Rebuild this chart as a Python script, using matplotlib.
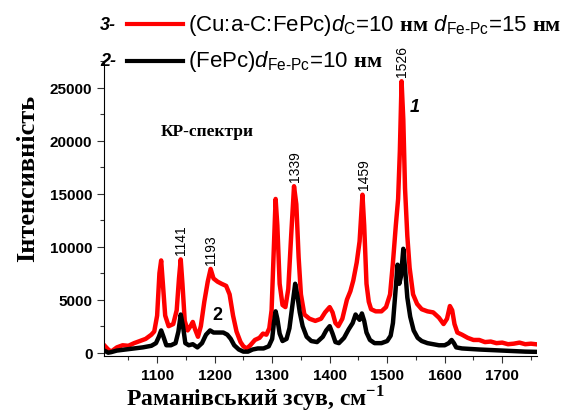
import matplotlib
matplotlib.use("Agg")
import matplotlib.pyplot as plt
from matplotlib.lines import Line2D
from matplotlib.ticker import MultipleLocator

plt.rcParams['font.family'] = ['Liberation Sans', 'DejaVu Sans']
plt.rcParams['mathtext.fontset'] = 'custom'
plt.rcParams['mathtext.rm'] = 'Liberation Sans'
plt.rcParams['mathtext.it'] = 'Liberation Sans:italic'
plt.rcParams['mathtext.bf'] = 'Liberation Serif:bold'

# curve 1 (red): Cu:a-C:FePc
shift_1 = [1008, 1015, 1020, 1030, 1040, 1050, 1060, 1070, 1080, 1090, 1095, 1100, 1104, 1107,
           1110, 1114, 1120, 1128, 1134, 1138, 1141, 1144, 1148, 1153, 1158, 1162, 1166, 1171,
           1176, 1182, 1188, 1193, 1198, 1205, 1212, 1220, 1226, 1232, 1238, 1245, 1250, 1256,
           1262, 1270, 1278, 1284, 1290, 1295, 1299, 1303, 1306, 1309, 1313, 1318, 1323, 1328,
           1333, 1338, 1342, 1346, 1350, 1356, 1365, 1375, 1385, 1392, 1400, 1405, 1410, 1415,
           1422, 1430, 1436, 1441, 1447, 1452, 1457, 1460, 1464, 1468, 1472, 1480, 1490, 1498,
           1505, 1510, 1515, 1519, 1522, 1525, 1528, 1531, 1535, 1539, 1545, 1552, 1560, 1570,
           1580, 1590, 1598, 1604, 1609, 1613, 1617, 1622, 1630, 1640, 1650, 1660, 1670, 1680,
           1690, 1700, 1710, 1720, 1730, 1740, 1750, 1758]
int_1 = [700, 300, 100, 500, 700, 650, 900, 1100, 1300, 1700, 2000, 3500, 7500, 8700,
         6500, 3500, 2500, 2700, 4000, 7000, 8800, 6500, 3000, 2100, 2500, 2900, 2200, 1500,
         2500, 4800, 6700, 7900, 7000, 6700, 6500, 6300, 5500, 3500, 2000, 1000, 600, 400,
         700, 1200, 1400, 1800, 1700, 2300, 4000, 10000, 14500, 12000, 6500, 4500, 4300, 6000,
         11000, 15700, 14000, 9000, 5500, 3600, 3200, 3000, 3200, 3800, 4300, 3800, 2800, 2500,
         3200, 5000, 5800, 6800, 8500, 10500, 14900, 12000, 6500, 4800, 4100, 3900, 3900, 4300,
         5500, 8500, 12000, 14500, 19000, 25600, 22000, 15500, 11000, 8000, 5500, 4600, 4100, 3900,
         3800, 3300, 2700, 3200, 4400, 4000, 2700, 1900, 1700, 1400, 1200, 1200, 1000, 1050,
         900, 950, 800, 850, 950, 800, 850, 800]

# curve 2 (black): FePc
shift_2 = [1008, 1015, 1020, 1030, 1045, 1060, 1075, 1090, 1098, 1103, 1107, 1111, 1116, 1124,
           1132, 1137, 1141, 1145, 1149, 1155, 1162, 1170, 1178, 1185, 1192, 1198, 1207, 1215,
           1222, 1228, 1234, 1242, 1250, 1258, 1266, 1275, 1285, 1294, 1300, 1303, 1306, 1309,
           1313, 1318, 1325, 1330, 1336, 1340, 1344, 1348, 1353, 1360, 1368, 1378, 1388, 1394,
           1400, 1405, 1410, 1416, 1425, 1433, 1440, 1445, 1449, 1452, 1456, 1460, 1464, 1470,
           1478, 1490, 1500, 1506, 1510, 1514, 1518, 1521, 1524, 1528, 1531, 1535, 1540, 1546,
           1553, 1560, 1570, 1580, 1590, 1600, 1607, 1612, 1616, 1620, 1630, 1645, 1660, 1680,
           1700, 1720, 1740, 1758]
int_2 = [200, 0, 50, 200, 300, 400, 500, 650, 900, 1500, 2100, 1500, 700, 700,
         900, 2000, 3600, 2500, 900, 700, 800, 500, 900, 1700, 2100, 1900, 1900, 1900,
         1700, 1300, 700, 300, 100, 100, 300, 400, 400, 600, 1300, 2800, 3900, 3200,
         1800, 1100, 1300, 2300, 4800, 6500, 5300, 3800, 2500, 1500, 1100, 1000, 1500, 2100,
         2500, 1800, 1000, 900, 1400, 2200, 2800, 3600, 3300, 3100, 3700, 3000, 1900, 1200,
         900, 900, 1100, 1600, 2800, 5500, 8300, 6500, 7200, 9800, 8000, 5200, 3400, 2100,
         1400, 1100, 900, 800, 700, 700, 900, 1200, 900, 500, 400, 350, 300, 250,
         200, 150, 100, 80]

peak_pos = [1141, 1193, 1339, 1459, 1526]
peak_top = [8800, 7900, 15700, 14900, 25600]

fig = plt.figure(figsize=(5.79, 4.14), dpi=100)
ax = fig.add_axes([0.18, 0.138, 0.747, 0.712])

ax.plot(shift_1, int_1, color='#ff0000', lw=3.2)
ax.plot(shift_2, int_2, color='black', lw=3.2)

for p, t in zip(peak_pos, peak_top):
    ax.text(p, t + 500, str(p), rotation=90, ha='center', va='bottom', fontsize=10)

ax.text(1547, 23200, '1', fontsize=13, fontweight='bold', style='italic', ha='center', va='center')
ax.text(1204, 3600, '2', fontsize=13, fontweight='bold', ha='center', va='center')
ax.text(1187, 20900, 'КР-спектри', fontsize=12.5, fontweight='bold', family='Liberation Serif',
        ha='center', va='center')

ax.set_xlim(1008, 1760)
ax.set_ylim(-300, 27500)
ax.xaxis.set_major_locator(MultipleLocator(100))
ax.xaxis.set_minor_locator(MultipleLocator(50))
ax.yaxis.set_major_locator(MultipleLocator(5000))
ax.yaxis.set_minor_locator(MultipleLocator(2500))
ax.spines['top'].set_visible(False)
ax.spines['right'].set_visible(False)
ax.tick_params(which='both', direction='out', width=0.8, colors='#333333', labelcolor='black')
ax.tick_params(which='major', length=5, labelsize=11)
ax.tick_params(which='minor', length=3)
for lab in ax.get_xticklabels() + ax.get_yticklabels():
    lab.set_fontweight('bold')

ax.set_xlabel(r'Раманівський зсув, см$^{\mathbf{-1}}$', fontsize=17, fontweight='bold',
              family='Liberation Serif')
ax.xaxis.set_label_coords(0.35, -0.09)
ax.set_ylabel('Інтенсивність', fontsize=19, fontweight='bold', family='Liberation Serif')
ax.yaxis.set_label_coords(-0.15, 0.607)

# legend drawn by hand at top
fig.text(100 / 579, 1 - 25 / 414, '3-', fontsize=13, fontweight='bold', style='italic', va='center')
fig.add_artist(Line2D([127 / 579, 183 / 579], [1 - 25 / 414] * 2, color='#ff0000', lw=3))
fig.text(188 / 579, 1 - 25 / 414,
         r'(Cu:a-C:FePc)$\mathit{d}_\mathrm{C}$=10 $\mathbf{нм}$ '
         r'$\mathit{d}_\mathrm{Fe\text{-}Pc}$=15 $\mathbf{нм}$',
         fontsize=16, va='center')
fig.text(100 / 579, 1 - 62 / 414, '2-', fontsize=13, fontweight='bold', style='italic', va='center')
fig.add_artist(Line2D([127 / 579, 183 / 579], [1 - 62 / 414] * 2, color='black', lw=3))
fig.text(188 / 579, 1 - 62 / 414,
         r'(FePc)$\mathit{d}_\mathrm{Fe\text{-}Pc}$=10 $\mathbf{нм}$',
         fontsize=16, va='center')

fig.savefig('out.png', dpi=100)
